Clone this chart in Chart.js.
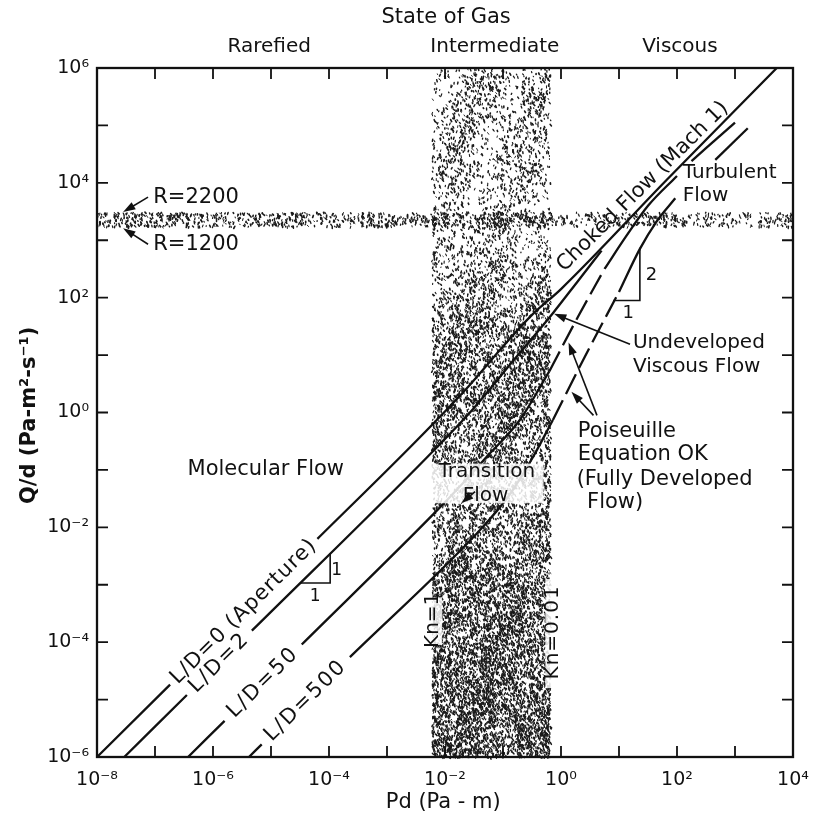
<!DOCTYPE html>
<html>
<head>
<meta charset="utf-8">
<script src="https://cdn.jsdelivr.net/npm/chart.js@4.4.1/dist/chart.umd.min.js"></script>
<style>
body { margin: 0; background: #fff; }
canvas { display: block; }
</style>
</head>
<body>
<canvas id="flowChart" width="814" height="822"></canvas>
<script>
// decade exponents for the ticks and their labels
const xTickExps = [-8, -7, -6, -5, -4, -3, -2, -1, 0, 1, 2, 3, 4];
const xTickLabels = ['10⁻⁸', '', '10⁻⁶', '', '10⁻⁴', '', '10⁻²', '', '10⁰', '', '10²', '', '10⁴'];
const yTickExps = [-6, -5, -4, -3, -2, -1, 0, 1, 2, 3, 4, 5, 6];
const yTickLabels = ['10⁻⁶', '', '10⁻⁴', '', '10⁻²', '', '10⁰', '', '10²', '', '10⁴', '', '10⁶'];

// curves, as log10(Pd), log10(Q/d); null = gap for a label
const ld0LogX = [-8, -6.74, null, -4.2, -2.5, -1.6, -1.0, -0.5, 0, 1.82, 3.72];
const ld0LogY = [-6, -4.74, null, -2.2, -0.5, 0.45, 1.15, 1.7, 2.15, 4.05, 6.0];

const ld2LogX = [-7.53, -6.45, null, -5.33, -2.3, -1.5, -0.8, -0.14, 0.3, 0.7];
const ld2LogY = [-6, -4.92, null, -3.8, -0.77, 0.08, 0.93, 1.73, 2.3, 2.82];

const ld50LogX = [-6.43, -5.80, null, -4.47, -2.2, -1.7, -1.28, -0.71, -0.2];
const ld50LogY = [-6, -5.37, null, -4.04, -1.77, -1.24, -0.77, -0.13, 0.72];
const ld50PoisLogX = [-0.2, 0.3, 0.75];
const ld50PoisLogY = [0.72, 1.68, 2.5];
const ld50ViscLogX = [0.75, 1.13, 1.5, 2.0];
const ld50ViscLogY = [2.5, 3.08, 3.6, 4.12];
const ld50TurbLogX = [2.25, 3.0];
const ld50TurbLogY = [4.38, 5.05];

const ld500LogX = [-5.38, -5.16, null, -3.64, -1.4, -0.9, -0.48, -0.14];
const ld500LogY = [-6, -5.78, null, -4.26, -2.05, -1.45, -0.77, -0.13];
const ld500PoisLogX = [-0.14, 0.4, 1.0];
const ld500PoisLogY = [-0.13, 0.95, 2.1];
const ld500ViscLogX = [1.0, 1.36, 1.65, 1.97];
const ld500ViscLogY = [2.1, 2.85, 3.33, 3.73];
const ld500TurbLogX = [2.66, 3.22];
const ld500TurbLogY = [4.40, 4.95];

// shaded regions: intermediate gas (Kn 1 .. 0.01) and R = 1200 .. 2200
const knBandLogX = [-2.22, -0.18];
const reBandLogY = [3.24, 3.49];

const FONT = '"DejaVu Sans", sans-serif';
const INK = '#111';

function toPoints(xs, ys) {
    return xs.map((e, i) => e === null
        ? { x: Math.pow(10, xs[i - 1]), y: null }
        : { x: Math.pow(10, e), y: Math.pow(10, ys[i]) });
}

function curve(xs, ys, dash) {
    return {
        data: toPoints(xs, ys),
        borderColor: INK,
        borderWidth: 2.3,
        borderDash: dash || [],
        pointRadius: 0,
        fill: false,
        spanGaps: false,
        cubicInterpolationMode: 'monotone'
    };
}

// simple repeatable generator for the stipple texture
function makeRand(seed) {
    let s = seed >>> 0;
    return () => (s = (s * 1664525 + 1013904223) >>> 0) / 4294967296;
}

function stipple(ctx, x0, y0, x1, y1, densFn, seed) {
    const rnd = makeRand(seed);
    const n = Math.round((x1 - x0) * (y1 - y0) * 0.45);
    ctx.save();
    ctx.strokeStyle = '#1a1a1a';
    ctx.lineCap = 'round';
    for (let i = 0; i < n; i++) {
        const x = x0 + rnd() * (x1 - x0);
        const y = y0 + rnd() * (y1 - y0);
        if (rnd() > densFn(x, y)) continue;
        const a = 0.7 + rnd() * 1.4;
        const l = 0.6 + rnd() * 1.8;
        ctx.lineWidth = 0.9 + rnd() * 0.8;
        ctx.beginPath();
        ctx.moveTo(x, y);
        ctx.lineTo(x + Math.cos(a) * l, y + Math.sin(a) * l);
        ctx.stroke();
    }
    ctx.restore();
}

function arrow(ctx, x0, y0, x1, y1) {
    const a = Math.atan2(y1 - y0, x1 - x0);
    ctx.beginPath();
    ctx.moveTo(x0, y0);
    ctx.lineTo(x1 - Math.cos(a) * 6, y1 - Math.sin(a) * 6);
    ctx.stroke();
    ctx.beginPath();
    ctx.moveTo(x1, y1);
    ctx.lineTo(x1 - Math.cos(a - 0.32) * 13, y1 - Math.sin(a - 0.32) * 13);
    ctx.lineTo(x1 - Math.cos(a + 0.32) * 13, y1 - Math.sin(a + 0.32) * 13);
    ctx.closePath();
    ctx.fill();
}

function text(ctx, str, x, y, size, align, rot, bold, spacing) {
    ctx.save();
    ctx.translate(x, y);
    if (rot) ctx.rotate(rot);
    ctx.font = (bold ? 'bold ' : '') + size + 'px ' + FONT;
    if (spacing) ctx.letterSpacing = spacing;
    ctx.textAlign = align || 'center';
    ctx.textBaseline = 'middle';
    ctx.fillText(str, 0, 0);
    ctx.restore();
}

const decor = {
    id: 'decor',
    beforeDatasetsDraw(chart) {
        const { ctx, chartArea: ca, scales } = chart;
        const px = e => scales.x.getPixelForValue(Math.pow(10, e));
        const py = e => scales.y.getPixelForValue(Math.pow(10, e));
        const bx0 = px(knBandLogX[0]), bx1 = px(knBandLogX[1]);
        stipple(ctx, bx0, ca.top, bx1, ca.bottom, (x, y) => {
            const f = (y - ca.top) / (ca.bottom - ca.top);
            const wob = 0.08 * Math.sin(x * 0.09 + y * 0.03) + 0.06 * Math.sin(y * 0.021);
            return 0.12 + 0.45 * f + wob;
        }, 7);
        const by0 = py(reBandLogY[1]), by1 = py(reBandLogY[0]);
        stipple(ctx, ca.left, by0, ca.right, by1, (x, y) => {
            const f = (x - ca.left) / (ca.right - ca.left);
            return 0.34 - 0.14 * f + 0.06 * Math.sin(x * 0.05);
        }, 11);
    },
    afterDatasetsDraw(chart) {
        const { ctx, chartArea: ca, scales } = chart;
        const px = e => scales.x.getPixelForValue(Math.pow(10, e));
        const py = e => scales.y.getPixelForValue(Math.pow(10, e));
        const slope = Math.atan2(py(1) - py(0), px(1) - px(0));
        ctx.save();
        ctx.fillStyle = INK;
        ctx.strokeStyle = INK;

        // frame and inward ticks
        ctx.lineWidth = 2.3;
        ctx.strokeRect(ca.left, ca.top, ca.right - ca.left, ca.bottom - ca.top);
        ctx.lineWidth = 1.8;
        xTickExps.slice(1, -1).forEach(e => {
            const x = px(e);
            ctx.beginPath();
            ctx.moveTo(x, ca.bottom); ctx.lineTo(x, ca.bottom - 11);
            ctx.moveTo(x, ca.top); ctx.lineTo(x, ca.top + 11);
            ctx.stroke();
        });
        yTickExps.slice(1, -1).forEach(e => {
            const y = py(e);
            ctx.beginPath();
            ctx.moveTo(ca.left, y); ctx.lineTo(ca.left + 11, y);
            ctx.moveTo(ca.right, y); ctx.lineTo(ca.right - 11, y);
            ctx.stroke();
        });

        // light patches behind labels inside the stippled band
        ctx.fillStyle = 'rgba(255,255,255,0.85)';
        ctx.fillRect(px(-2.33), py(-0.89), px(-0.3) - px(-2.33), py(-1.58) - py(-0.89));
        ctx.fillRect(px(-2.36), py(-3.22), 18, py(-4.05) - py(-3.22));
        ctx.fillRect(px(-0.27), py(-2.9), 20, py(-4.8) - py(-2.9));
        ctx.fillStyle = INK;

        // top headings
        text(ctx, 'State of Gas', px(-1.98), ca.top - 50, 21);
        text(ctx, 'Rarefied', px(-5.03), ca.top - 21, 20);
        text(ctx, 'Intermediate', px(-1.14), ca.top - 21, 20);
        text(ctx, 'Viscous', px(2.05), ca.top - 21, 20);

        // axis titles
        text(ctx, 'Pd (Pa - m)', px(-2.03), ca.bottom + 46, 21);
        text(ctx, 'Q/d (Pa-m²-s⁻¹)', ca.left - 67, py(-0.05), 21, 'center', -Math.PI / 2, true);

        // curve labels along the lines
        text(ctx, 'L/D=0 (Aperture)', px(-5.47), py(-3.47), 21, 'center', slope, false, '1px');
        text(ctx, 'L/D=2', px(-5.89), py(-4.36), 21, 'center', slope, false, '2px');
        text(ctx, 'L/D=50', px(-5.135), py(-4.705), 21, 'center', slope, false, '2px');
        text(ctx, 'L/D=500', px(-4.4), py(-5.02), 21, 'center', slope, false, '2px');
        text(ctx, 'Choked Flow (Mach 1)', px(1.41), py(3.93), 21, 'center', slope);

        text(ctx, 'Molecular Flow', px(-5.09), py(-1.0), 21);
        text(ctx, 'Transition', px(-1.28), py(-1.04), 20);
        text(ctx, 'Flow', px(-1.3), py(-1.45), 20);
        text(ctx, 'Kn=1', px(-2.21), py(-3.62), 20, 'center', -Math.PI / 2);
        text(ctx, 'Kn=0.01', px(-0.14), py(-3.83), 20, 'center', -Math.PI / 2, false, '1px');

        text(ctx, 'Turbulent', px(2.1), py(4.17), 20, 'left');
        text(ctx, 'Flow', px(2.1), py(3.77), 20, 'left');
        text(ctx, 'Undeveloped', px(1.24), py(1.21), 20, 'left');
        text(ctx, 'Viscous Flow', px(1.24), py(0.79), 20, 'left');
        text(ctx, 'Poiseuille', px(0.29), py(-0.34), 21, 'left');
        text(ctx, 'Equation OK', px(0.29), py(-0.74), 21, 'left');
        text(ctx, '(Fully Developed', px(0.27), py(-1.16), 21, 'left');
        text(ctx, 'Flow)', px(0.45), py(-1.56), 21, 'left');
        text(ctx, 'R=2200', px(-7.03), py(3.75), 21, 'left');
        text(ctx, 'R=1200', px(-7.03), py(2.93), 21, 'left');

        // slope triangles, hypotenuse is the curve itself
        ctx.lineWidth = 1.6;
        ctx.beginPath();
        ctx.moveTo(px(-4.5), py(-2.97)); ctx.lineTo(px(-3.98), py(-2.97)); ctx.lineTo(px(-3.98), py(-2.45));
        ctx.moveTo(px(0.9), py(1.95)); ctx.lineTo(px(1.36), py(1.95)); ctx.lineTo(px(1.36), py(2.87));
        ctx.stroke();
        text(ctx, '1', px(-3.87), py(-2.75), 17);
        text(ctx, '1', px(-4.24), py(-3.21), 17);
        text(ctx, '2', px(1.56), py(2.39), 18);
        text(ctx, '1', px(1.16), py(1.73), 18);

        // pointer arrows
        ctx.lineWidth = 1.6;
        arrow(ctx, px(-7.12), py(3.75), px(-7.55), py(3.49));
        arrow(ctx, px(-7.12), py(2.93), px(-7.55), py(3.21));
        arrow(ctx, px(1.19), py(1.19), px(-0.12), py(1.72));
        arrow(ctx, px(0.62), py(-0.05), px(0.13), py(1.22));
        arrow(ctx, px(0.56), py(-0.05), px(0.18), py(0.36));
        arrow(ctx, px(-1.48), py(-1.38), px(-1.72), py(-1.58));
        ctx.restore();
    }
};

new Chart(document.getElementById('flowChart'), {
    type: 'line',
    data: {
        datasets: [
            curve(ld0LogX, ld0LogY),
            curve(ld2LogX, ld2LogY),
            curve(ld50LogX, ld50LogY),
            curve(ld50PoisLogX, ld50PoisLogY, [22, 7]),
            curve(ld50ViscLogX, ld50ViscLogY),
            curve(ld50TurbLogX, ld50TurbLogY),
            curve(ld500LogX, ld500LogY),
            curve(ld500PoisLogX, ld500PoisLogY, [22, 7]),
            curve(ld500ViscLogX, ld500ViscLogY),
            curve(ld500TurbLogX, ld500TurbLogY)
        ]
    },
    options: {
        responsive: false,
        animation: false,
        layout: { padding: { top: 68, right: 21, left: 0, bottom: 0 } },
        plugins: { legend: { display: false }, tooltip: { enabled: false } },
        scales: {
            x: {
                type: 'logarithmic',
                min: 1e-8,
                max: 1e4,
                afterBuildTicks: s => { s.ticks = xTickExps.map(e => ({ value: Math.pow(10, e) })); },
                afterFit: s => { s.height = 65; s.paddingLeft = 0; s.paddingRight = 0; },
                grid: { display: false, drawTicks: false },
                border: { display: false },
                ticks: {
                    autoSkip: false,
                    maxRotation: 0,
                    padding: 12,
                    color: INK,
                    font: { family: FONT, size: 19 },
                    callback: (v, i) => xTickLabels[i]
                }
            },
            y: {
                type: 'logarithmic',
                min: 1e-6,
                max: 1e6,
                afterBuildTicks: s => { s.ticks = yTickExps.map(e => ({ value: Math.pow(10, e) })); },
                afterFit: s => { s.width = 97; s.paddingTop = 0; s.paddingBottom = 0; },
                grid: { display: false, drawTicks: false },
                border: { display: false },
                ticks: {
                    autoSkip: false,
                    padding: 8,
                    color: INK,
                    font: { family: FONT, size: 19 },
                    callback: (v, i) => yTickLabels[i]
                }
            }
        }
    },
    plugins: [decor]
});
</script>
</body>
</html>
